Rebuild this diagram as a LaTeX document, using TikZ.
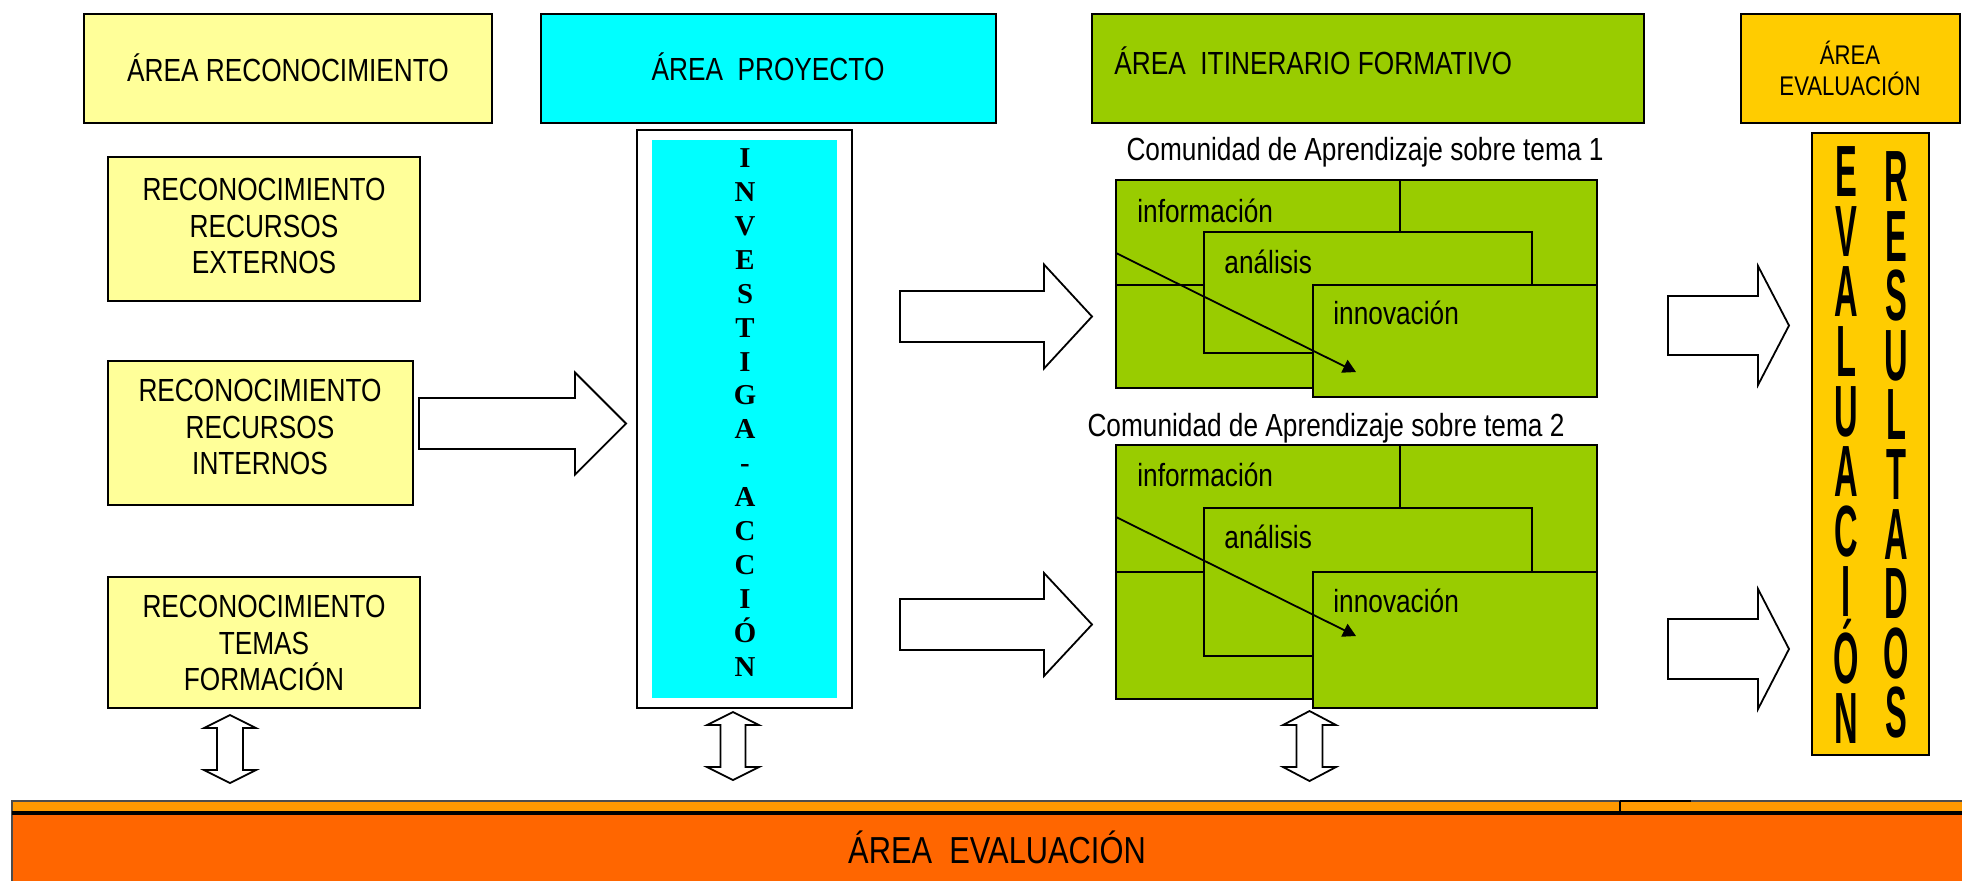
\documentclass[tikz,border=0pt]{standalone}
\usepackage{fontspec}
\setmainfont{Liberation Sans}[FakeStretch=0.82]
\newfontfamily\condbold{Liberation Sans}[FakeStretch=0.45]
\newfontfamily\serifbold{Liberation Serif}
\usetikzlibrary{arrows.meta}
\definecolor{lyellow}{HTML}{FFFF99}
\definecolor{cyanbox}{HTML}{00FFFF}
\definecolor{greenbox}{HTML}{99CC00}
\definecolor{goldbox}{HTML}{FFCC00}
\definecolor{orangestripe}{HTML}{FF9900}
\definecolor{orangebar}{HTML}{FF6600}
% right-pointing block arrow: tail x, head base x, tip x, centre y, shaft half, head half
\newcommand\blockR[6]{\draw[blockshape] ({#1},{#4-#5}) -- ({#2},{#4-#5}) -- ({#2},{#4-#6}) -- ({#3},{#4}) -- ({#2},{#4+#6}) -- ({#2},{#4+#5}) -- ({#1},{#4+#5}) -- cycle;}
% up-down block arrow: centre x, top tip, top shoulder, bottom shoulder, bottom tip, shaft half, head half
\newcommand\blockUD[7]{\draw[blockshape] ({#1},{#2}) -- ({#1+#7},{#3}) -- ({#1+#6},{#3}) -- ({#1+#6},{#4}) -- ({#1+#7},{#4}) -- ({#1},{#5}) -- ({#1-#7},{#4}) -- ({#1-#6},{#4}) -- ({#1-#6},{#3}) -- ({#1-#7},{#3}) -- cycle;}
\begin{document}
\begin{tikzpicture}[x=0.5pt,y=-0.5pt,
  box/.style={draw=black,line width=1pt},
  blockshape/.style={draw=black,line width=0.9pt,fill=white,line join=miter},
  lbl/.style={inner sep=0pt,font=\fontsize{16}{18.3}\selectfont,align=center},
  vlet/.style={inner sep=0pt,align=center,font=\condbold\bfseries\fontsize{36.3}{30}\selectfont},
  flow/.style={line width=0.9pt,-{Triangle[length=6.5pt,width=7pt]}},
]
\useasboundingbox (0,0) rectangle (1962,880);
\fill[white] (0,0) rectangle (1962,880);

% ---------- headers ----------
\draw[box,fill=lyellow] (84,14) rectangle (492,123);
\node[lbl] (hrec) at (288,68) {ÁREA RECONOCIMIENTO};
\draw[box,fill=cyanbox] (541,14) rectangle (996,123);
\node[lbl] (hproy) at (768,67) {ÁREA\ \ PROYECTO};
\draw[box,fill=greenbox] (1092,14) rectangle (1644,123);
\node[lbl,anchor=west] (hitin) at (1114,61) {ÁREA\ \ ITINERARIO FORMATIVO};
\draw[box,fill=goldbox] (1741,14) rectangle (1960,123);
\node[lbl,font=\fontsize{13.5}{15.5}\selectfont] (heval) at (1850,68) {ÁREA\\EVALUACIÓN};

% ---------- left column ----------
\draw[box,fill=lyellow] (108,157) rectangle (420,301);
\node[lbl] (rext) at (264,226) {RECONOCIMIENTO\\RECURSOS\\EXTERNOS};
\draw[box,fill=lyellow] (108,361) rectangle (413,505);
\node[lbl] (rint) at (260,427) {RECONOCIMIENTO\\RECURSOS\\INTERNOS};
\draw[box,fill=lyellow] (108,577) rectangle (420,708);
\node[lbl] (rtem) at (264,643) {RECONOCIMIENTO\\TEMAS\\FORMACIÓN};

% ---------- project column ----------
\draw[box,fill=white] (637,130) rectangle (852,708);
\fill[cyanbox] (652,140) rectangle (837,698);
\node[inner sep=0pt,align=center,font=\serifbold\bfseries\fontsize{14.4}{16.95}\selectfont] (inv) at (745,412.5)
  {I\\N\\V\\E\\S\\T\\I\\G\\A\\-\\A\\C\\C\\I\\Ó\\N};

% ---------- community 1 ----------
\node[lbl,anchor=base] (com1) at (1365,160) {Comunidad de Aprendizaje sobre tema 1};
\draw[box,fill=greenbox] (1116,180) rectangle (1597,388);
\draw[box] (1116,180) rectangle (1400,285);
\draw[box,fill=greenbox] (1204,232) rectangle (1532,353);
\draw[box,fill=greenbox] (1313,285) rectangle (1597,397);
\node[lbl,anchor=base west] (inf1) at (1137,222) {información};
\node[lbl,anchor=base west] (ana1) at (1224,273) {análisis};
\node[lbl,anchor=base west] (inn1) at (1333,324) {innovación};
\coordinate (f1s) at (1116,253);
\coordinate (f1e) at (1356,372);
\draw[flow] (f1s) -- (f1e);

% ---------- community 2 ----------
\node[lbl,anchor=base] (com2) at (1326,436) {Comunidad de Aprendizaje sobre tema 2};
\draw[box,fill=greenbox] (1116,445) rectangle (1597,699);
\draw[box] (1116,445) rectangle (1400,572);
\draw[box,fill=greenbox] (1204,508) rectangle (1532,656);
\draw[box,fill=greenbox] (1313,572) rectangle (1597,708);
\node[lbl,anchor=base west] (inf2) at (1137,486) {información};
\node[lbl,anchor=base west] (ana2) at (1224,548) {análisis};
\node[lbl,anchor=base west] (inn2) at (1333,612) {innovación};
\coordinate (f2s) at (1116,517);
\coordinate (f2e) at (1356,636);
\draw[flow] (f2s) -- (f2e);

% ---------- evaluation column ----------
\draw[box,fill=goldbox] (1812,133) rectangle (1929,755);
\node[vlet] (evv) at (1846,445) {E\\V\\A\\L\\U\\A\\C\\I\\Ó\\N};
\node[vlet,font=\condbold\bfseries\fontsize{36.3}{29.8}\selectfont] (res) at (1896,445) {R\\E\\S\\U\\L\\T\\A\\D\\O\\S};

% ---------- block arrows ----------
\blockR{419}{575}{626}{423.5}{25.5}{51}
\blockR{900}{1044}{1092}{316.5}{25.5}{52}
\blockR{900}{1044}{1092}{624.5}{25.5}{51.5}
\blockR{1668}{1758}{1789}{325.5}{29.5}{59.5}
\blockR{1668}{1758}{1789}{649}{30}{60}
\blockUD{230}{715}{728}{770}{783}{13}{26}
\blockUD{733}{712}{725}{767}{780}{12.5}{26}
\blockUD{1309.5}{711}{725}{767}{781}{13}{26.5}

% ---------- bottom bar ----------
\draw[fill=orangestripe,draw=black!70,line width=0.6pt] (12,801) rectangle (1964,813);
\draw[line width=0.6pt] (1620,801) -- (1620,813);
\draw[line width=1.3pt] (1620,801) -- (1691,801);
\fill[orangebar] (12,813) rectangle (1964,882);
\draw[line width=0.6pt,draw=black!70] (12,813) -- (12,882);
\draw[line width=1.6pt] (12,813) -- (1964,813);
\node[lbl,font=\fontsize{18.8}{21}\selectfont] (bar) at (997,847) {ÁREA\ \ EVALUACIÓN};
\end{tikzpicture}
\end{document}
